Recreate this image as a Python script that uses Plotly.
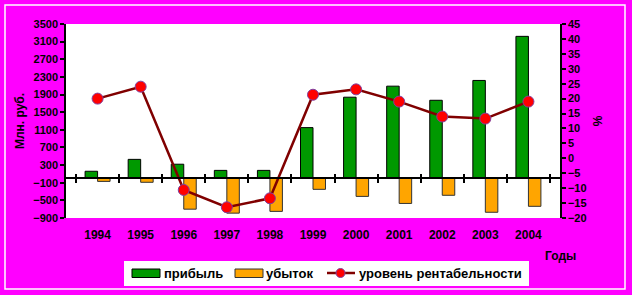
import plotly.graph_objects as go

years = ["1994", "1995", "1996", "1997", "1998", "1999", "2000", "2001", "2002", "2003", "2004"]
profit = [160, 430, 320, 180, 180, 1150, 1840, 2090, 1770, 2220, 3220]
loss = [-70, -90, -700, -790, -750, -250, -410, -570, -385, -770, -635]
profitability = [20, 24, -10.6, -16.4, -13.4, 21.3, 23.1, 19, 14, 13.3, 19]

left_ticks = [-900, -500, -100, 300, 700, 1100, 1500, 1900, 2300, 2700, 3100, 3500]
right_ticks = list(range(-20, 50, 5))

legend_labels = ["прибыль", "убыток", "уровень рентабельности"]

FONT = "Liberation Sans, Arial, sans-serif"
MAG = "#FF00FF"
GREEN = "#009900"
ORANGE = "#FFA500"
LINE = "#800000"
DOT = "#FF0000"

fig = go.Figure()
fig.add_trace(go.Bar(x=years, y=profit, name=legend_labels[0],
                     marker=dict(color=GREEN, line=dict(color="#000000", width=1)),
                     xaxis="x", yaxis="y", showlegend=False))
fig.add_trace(go.Bar(x=years, y=loss, name=legend_labels[1],
                     marker=dict(color=ORANGE, line=dict(color="#333333", width=1)),
                     xaxis="x", yaxis="y", showlegend=False))
fig.add_trace(go.Scatter(x=years, y=profitability, name=legend_labels[2], mode="lines+markers",
                         line=dict(color=LINE, width=2.5),
                         marker=dict(color=DOT, size=11, line=dict(color="#8040A0", width=1)),
                         xaxis="x", yaxis="y2", showlegend=False))

ymin, ymax = -900, 3500
zero_frac = (0 - ymin) / (ymax - ymin)

# helper to convert pixel positions (of the 632x295 canvas) to paper fractions
L, R, T, B = 66, 560, 24, 218
def px(x):
    return (x - L) / (R - L)
def py(y):
    return (B - y) / (B - T)

shapes = [
    # outer white frame
    dict(type="rect", xref="paper", yref="paper", x0=px(5), x1=px(625), y0=py(289), y1=py(5),
         line=dict(color="white", width=1.5), fillcolor="rgba(0,0,0,0)", layer="below"),
    # legend box
    dict(type="rect", xref="paper", yref="paper", x0=px(124), x1=px(529), y0=py(286), y1=py(261),
         line=dict(color="white", width=0), fillcolor="white", layer="below"),
    # legend swatches
    dict(type="rect", xref="paper", yref="paper", x0=px(132), x1=px(160), y0=py(277.5), y1=py(269),
         line=dict(color="black", width=1), fillcolor=GREEN),
    dict(type="rect", xref="paper", yref="paper", x0=px(235), x1=px(263), y0=py(277.5), y1=py(269),
         line=dict(color="#333333", width=1), fillcolor=ORANGE),
    dict(type="line", xref="paper", yref="paper", x0=px(327), x1=px(355), y0=py(273), y1=py(273),
         line=dict(color=LINE, width=2.5)),
    dict(type="circle", xref="paper", yref="paper", x0=px(336), x1=px(345), y0=py(277.5), y1=py(268.5),
         line=dict(color="#8040A0", width=1), fillcolor=DOT),
]

annotations = [
    dict(text=legend_labels[0], xref="paper", yref="paper", x=px(162), y=py(273), showarrow=False,
         xanchor="left", yanchor="middle", font=dict(size=13, weight="bold")),
    dict(text=legend_labels[1], xref="paper", yref="paper", x=px(264), y=py(273), showarrow=False,
         xanchor="left", yanchor="middle", font=dict(size=13, weight="bold")),
    dict(text=legend_labels[2], xref="paper", yref="paper", x=px(357), y=py(273), showarrow=False,
         xanchor="left", yanchor="middle", font=dict(size=13, weight="bold")),
    dict(text="Годы", xref="paper", yref="paper", x=px(560), y=py(256), showarrow=False,
         font=dict(size=12, weight="bold"), xanchor="center", yanchor="middle"),
]

fig.update_layout(
    width=632, height=295,
    margin=dict(l=L, r=632 - R, t=T, b=295 - B, autoexpand=False),
    paper_bgcolor=MAG, plot_bgcolor="white",
    barmode="group", bargap=0.42, bargroupgap=0,
    font=dict(family=FONT, size=11, color="black", weight="bold"),
    showlegend=False,
    xaxis=dict(type="category", domain=[0, 1], showline=False, ticks="", showgrid=False,
               tickfont=dict(size=12, weight="bold"), ticklabelstandoff=8, anchor="y"),
    xaxis2=dict(type="category", overlaying="x", anchor="free", position=zero_frac, showline=True,
                linecolor="black", linewidth=1.5, ticks="outside", ticklen=4, tickwidth=1.5,
                tickcolor="black", tickson="boundaries", showticklabels=False, showgrid=False,
                matches="x"),
    xaxis3=dict(type="category", overlaying="x", anchor="free", position=zero_frac, side="top",
                showline=False, ticks="outside", ticklen=4, tickwidth=1.5,
                tickcolor="black", tickson="boundaries", showticklabels=False, showgrid=False,
                matches="x"),
    yaxis=dict(range=[ymin, ymax], tickvals=left_ticks, showgrid=False, zeroline=False,
               showline=True, linecolor="black", linewidth=1.5, ticks="outside", ticklen=4,
               tickwidth=1.5, tickcolor="black", tickfont=dict(size=11, weight="bold"),
               title=dict(text="Млн. руб.", font=dict(size=12, weight="bold"), standoff=6)),
    yaxis2=dict(range=[-20, 45], tickvals=right_ticks, overlaying="y", side="right", showgrid=False,
                zeroline=False, showline=True, linecolor="black", linewidth=1.5, ticks="outside",
                ticklen=4, tickwidth=1.5, tickcolor="black", tickfont=dict(size=11, weight="bold"),
                title=dict(text="%", font=dict(size=12, weight="bold"), standoff=8)),
    annotations=annotations,
    shapes=shapes,
)
# invisible traces to activate the overlay axes (zero line with boundary ticks)
fig.add_trace(go.Scatter(x=years, y=[None] * len(years), xaxis="x2", yaxis="y", showlegend=False, hoverinfo="skip"))
fig.add_trace(go.Scatter(x=years, y=[None] * len(years), xaxis="x3", yaxis="y", showlegend=False, hoverinfo="skip"))

fig.write_html("out.html")
